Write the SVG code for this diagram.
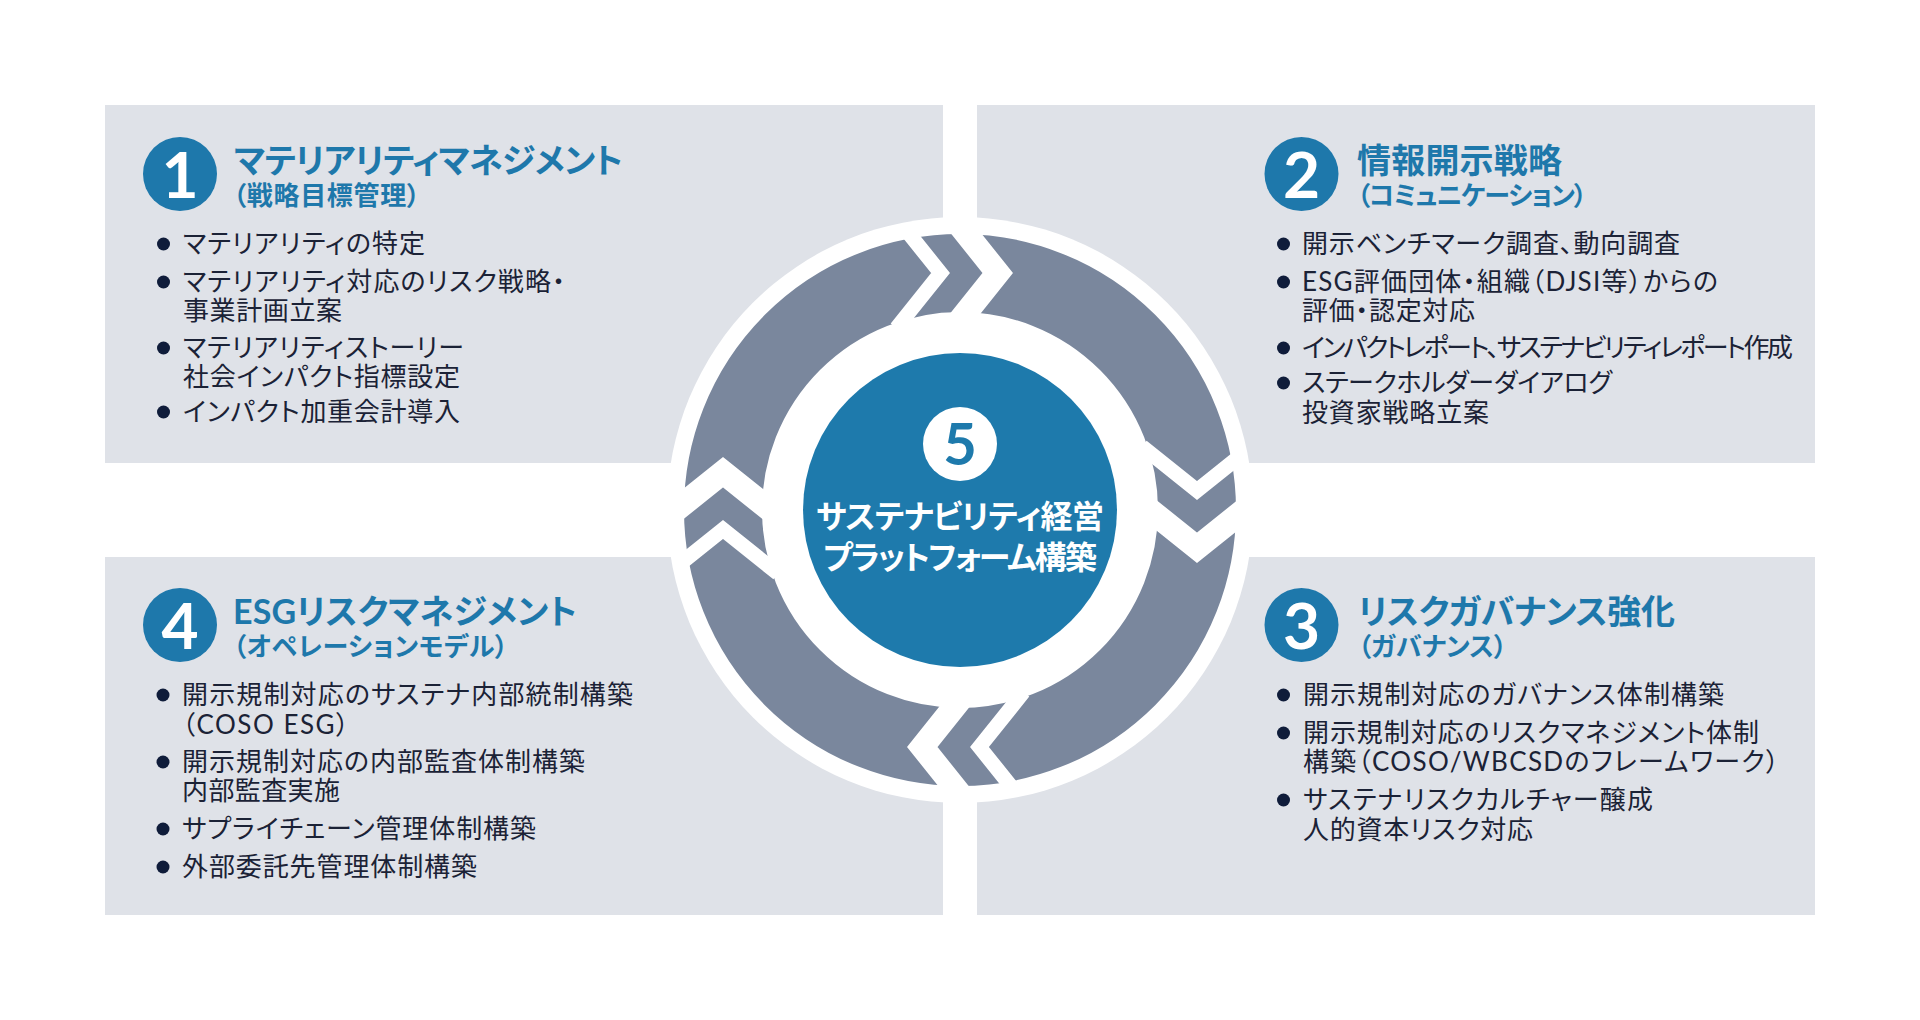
<svg xmlns="http://www.w3.org/2000/svg" width="1920" height="1020" viewBox="0 0 1920 1020">
<defs>
<style>
.panel{fill:#dfe2e8}
.badge{fill:#1e78ab}
.num{font-family:Lato,"Noto Sans",sans-serif;font-weight:700;font-size:64px;fill:#fff;text-anchor:middle}
.title{font-family:Lato,"Noto Sans CJK JP",sans-serif;font-weight:700;font-size:34px;fill:#1e78ab;font-feature-settings:"palt"}
.sub{font-family:Lato,"Noto Sans CJK JP",sans-serif;font-weight:700;font-size:26px;fill:#1e78ab;font-feature-settings:"palt"}
.body{font-family:Lato,"Noto Sans CJK JP",sans-serif;font-weight:400;font-size:26px;fill:#1b2236;font-feature-settings:"palt"}
.dot{fill:#0f1c3a}
.ring{fill:none;stroke:#7a879d;stroke-width:78}
.cut{fill:none;stroke:#fff;stroke-linejoin:miter;stroke-miterlimit:10}
.ctext{font-family:Lato,"Noto Sans CJK JP",sans-serif;font-weight:700;font-size:32px;fill:#fff;text-anchor:middle;font-feature-settings:"palt"}
</style>
<clipPath id="ringClip"><circle cx="0" cy="0" r="282"/></clipPath>
<g id="junction">
<path class="cut" d="M -63.5 -292 L -19.5 -237 L -63.5 -182" stroke-width="14.8"/>
<path class="cut" d="M -6.25 -292 L 37.75 -237 L -6.25 -182" stroke-width="23.8"/>
</g>
</defs>
<rect width="1920" height="1020" fill="#fff"/>

<g id="node-1">
<rect class="panel" x="105" y="105" width="838" height="358"/>
<circle class="badge" cx="180" cy="174" r="37"/>
<text class="num" x="180" y="198">1</text>
<text class="title" x="234" y="173" textLength="389" lengthAdjust="spacing">マテリアリティマネジメント</text>
<text class="sub" x="233" y="205" textLength="187" lengthAdjust="spacing">（戦略目標管理）</text>
<circle class="dot" cx="163.5" cy="244" r="6.5"/>
<text class="body" x="183" y="253" textLength="242" lengthAdjust="spacing">マテリアリティの特定</text>
<circle class="dot" cx="163.5" cy="282" r="6.5"/>
<text class="body" x="183" y="291" textLength="382" lengthAdjust="spacing">マテリアリティ対応のリスク戦略・</text>
<text class="body" x="183" y="320" textLength="159" lengthAdjust="spacing">事業計画立案</text>
<circle class="dot" cx="163.5" cy="348" r="6.5"/>
<text class="body" x="183" y="357" textLength="281" lengthAdjust="spacing">マテリアリティストーリー</text>
<text class="body" x="183" y="386" textLength="277" lengthAdjust="spacing">社会インパクト指標設定</text>
<circle class="dot" cx="163.5" cy="412" r="6.5"/>
<text class="body" x="183" y="421" textLength="277" lengthAdjust="spacing">インパクト加重会計導入</text>
</g>

<g id="node-2">
<rect class="panel" x="977" y="105" width="838" height="358"/>
<circle class="badge" cx="1301.5" cy="174" r="37"/>
<text class="num" x="1301.5" y="198">2</text>
<text class="title" x="1357" y="173" textLength="205" lengthAdjust="spacing">情報開示戦略</text>
<text class="sub" x="1357" y="205" textLength="230" lengthAdjust="spacing">（コミュニケーション）</text>
<circle class="dot" cx="1283.5" cy="244" r="6.5"/>
<text class="body" x="1302" y="253" textLength="378" lengthAdjust="spacing">開示ベンチマーク調査、動向調査</text>
<circle class="dot" cx="1283.5" cy="282" r="6.5"/>
<text class="body" x="1302" y="291" textLength="416" lengthAdjust="spacing">ESG評価団体・組織（DJSI等）からの</text>
<text class="body" x="1302" y="320" textLength="173" lengthAdjust="spacing">評価・認定対応</text>
<circle class="dot" cx="1283.5" cy="348" r="6.5"/>
<text class="body" x="1302" y="357" textLength="491" lengthAdjust="spacing">インパクトレポート、サステナビリティレポート作成</text>
<circle class="dot" cx="1283.5" cy="383" r="6.5"/>
<text class="body" x="1302" y="392" textLength="310" lengthAdjust="spacing">ステークホルダーダイアログ</text>
<text class="body" x="1302" y="422" textLength="187" lengthAdjust="spacing">投資家戦略立案</text>
</g>

<g id="node-4">
<rect class="panel" x="105" y="557" width="838" height="358"/>
<circle class="badge" cx="180" cy="625" r="37"/>
<text class="num" x="180" y="649">4</text>
<text class="title" x="233" y="624" textLength="344" lengthAdjust="spacing">ESGリスクマネジメント</text>
<text class="sub" x="233" y="656" textLength="275" lengthAdjust="spacing">（オペレーションモデル）</text>
<circle class="dot" cx="163" cy="695" r="6.5"/>
<text class="body" x="182" y="704" textLength="451" lengthAdjust="spacing">開示規制対応のサステナ内部統制構築</text>
<text class="body" x="182" y="734" textLength="167" lengthAdjust="spacing">（COSO ESG）</text>
<circle class="dot" cx="163" cy="762" r="6.5"/>
<text class="body" x="182" y="771" textLength="403" lengthAdjust="spacing">開示規制対応の内部監査体制構築</text>
<text class="body" x="182" y="800" textLength="158" lengthAdjust="spacing">内部監査実施</text>
<circle class="dot" cx="163" cy="829" r="6.5"/>
<text class="body" x="182" y="838" textLength="354" lengthAdjust="spacing">サプライチェーン管理体制構築</text>
<circle class="dot" cx="163" cy="867" r="6.5"/>
<text class="body" x="182" y="876" textLength="295" lengthAdjust="spacing">外部委託先管理体制構築</text>
</g>

<g id="node-3">
<rect class="panel" x="977" y="557" width="838" height="358"/>
<circle class="badge" cx="1301.5" cy="625" r="37"/>
<text class="num" x="1301.5" y="649">3</text>
<text class="title" x="1358" y="624" textLength="317" lengthAdjust="spacing">リスクガバナンス強化</text>
<text class="sub" x="1358" y="656" textLength="149" lengthAdjust="spacing">（ガバナンス）</text>
<circle class="dot" cx="1283.5" cy="695" r="6.5"/>
<text class="body" x="1303" y="704" textLength="421" lengthAdjust="spacing">開示規制対応のガバナンス体制構築</text>
<circle class="dot" cx="1283.5" cy="733" r="6.5"/>
<text class="body" x="1303" y="742" textLength="456" lengthAdjust="spacing">開示規制対応のリスクマネジメント体制</text>
<text class="body" x="1303" y="771" textLength="476" lengthAdjust="spacing">構築（COSO/WBCSDのフレームワーク）</text>
<circle class="dot" cx="1283.5" cy="800" r="6.5"/>
<text class="body" x="1303" y="809" textLength="350" lengthAdjust="spacing">サステナリスクカルチャー醸成</text>
<text class="body" x="1303" y="839" textLength="230" lengthAdjust="spacing">人的資本リスク対応</text>
</g>

<g id="connectors" transform="translate(960,510)">
<circle cx="0" cy="0" r="293" fill="#fff"/>
<circle class="ring" cx="0" cy="0" r="237"/>
<g clip-path="url(#ringClip)">
<use href="#junction"/>
<use href="#junction" transform="rotate(90)"/>
<use href="#junction" transform="rotate(180)"/>
<use href="#junction" transform="rotate(270)"/>
</g>
</g>

<g id="node-5">
<circle cx="960" cy="510" r="157" fill="#1e7aac"/>
<circle cx="960" cy="444" r="37" fill="#fff"/>
<text x="960" y="465" style="font-family:Lato,'Noto Sans',sans-serif;font-weight:700;font-size:58px;fill:#1e7aac;text-anchor:middle">5</text>
<text class="ctext" x="960" y="528" textLength="288" lengthAdjust="spacing">サステナビリティ経営</text>
<text class="ctext" x="960" y="569" textLength="274" lengthAdjust="spacing">プラットフォーム構築</text>
</g>
</svg>
